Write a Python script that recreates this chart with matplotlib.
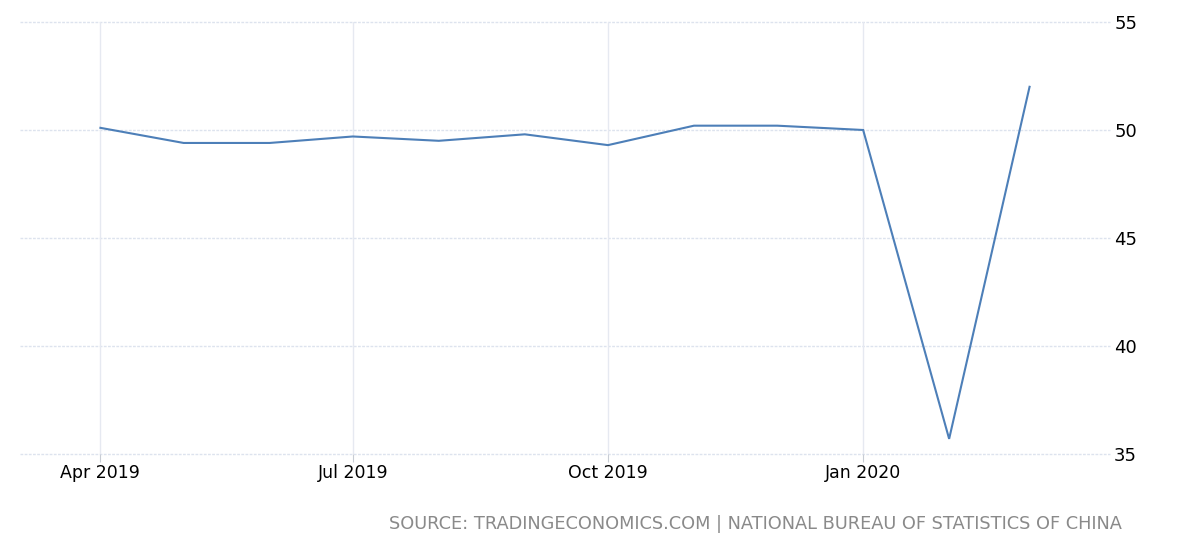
import matplotlib
matplotlib.use("Agg")
import matplotlib.pyplot as plt
import pandas as pd

months = ["2019-04", "2019-05", "2019-06", "2019-07", "2019-08", "2019-09",
          "2019-10", "2019-11", "2019-12", "2020-01", "2020-02", "2020-03"]
pmi = [50.1, 49.4, 49.4, 49.7, 49.5, 49.8, 49.3, 50.2, 50.2, 50.0, 35.7, 52.0]
tick_months = ["2019-04", "2019-07", "2019-10", "2020-01"]
tick_labels = ["Apr 2019", "Jul 2019", "Oct 2019", "Jan 2020"]
y_ticks = [35, 40, 45, 50, 55]
source = "SOURCE: TRADINGECONOMICS.COM | NATIONAL BUREAU OF STATISTICS OF CHINA"

dates = pd.to_datetime(months)
tdates = pd.to_datetime(tick_months)

fig = plt.figure(figsize=(12, 5.5), dpi=100)
ax = fig.add_axes([20/1200, (550-454)/550, 1090/1200, 432/550])

ax.plot(dates, pmi, color="#4d7fb8", lw=1.5, solid_joinstyle="miter")

ax.set_xlim(pd.Timestamp("2019-03-03"), pd.Timestamp("2020-03-30"))
ax.set_ylim(35, 55)

for y in y_ticks:
    ax.axhline(y, color="#dde3ee", lw=1, ls=(0, (2, 1)), zorder=0, clip_on=False)
for d in tdates:
    ax.axvline(d, color="#e6e9f1", lw=1, zorder=0)

ax.set_xticks(tdates)
ax.set_xticklabels(tick_labels)
ax.set_yticks(y_ticks)
ax.yaxis.tick_right()
ax.tick_params(axis="y", length=0, pad=3, labelsize=13)
ax.tick_params(axis="x", length=6, color="#c8ccd4", pad=1.5, labelsize=12.5)
for s in ax.spines.values():
    s.set_visible(False)

fig.text(1122/1200, 1 - 524/550, source, ha="right", va="center",
         color="#8a8a8a", fontsize=12.8)

fig.savefig("out.png", dpi=100)
